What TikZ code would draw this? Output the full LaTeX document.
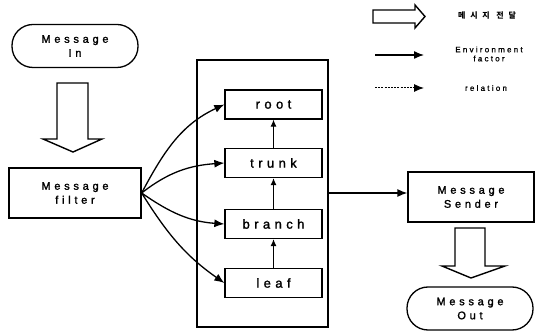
\documentclass[tikz,border=0pt]{standalone}
\usepackage{fontspec}
\setmainfont{Liberation Sans}
\newfontfamily\msgfont[LetterSpace=34,FakeBold=1.5]{Liberation Sans}
\newfontfamily\legfont[LetterSpace=28,FakeBold=1]{Liberation Sans}
\newfontfamily\korfont[LetterSpace=60]{Noto Sans CJK KR}
\usetikzlibrary{arrows.meta,positioning}
\tikzset{
	msgbox/.style={draw,line width=1.3pt,minimum width=132pt,minimum height=50pt,align=center,font=\msgfont\fontsize{11}{14}\selectfont},
	msgcap/.style={msgbox,rounded corners=21pt,minimum width=126pt,minimum height=43pt},
	levelbox/.style={draw,line width=1.3pt,minimum width=97pt,minimum height=29pt,font=\msgfont\fontsize{13}{15}\selectfont},
	legtext/.style={inner sep=0pt,align=center,font=\legfont\fontsize{8}{10}\selectfont},
	envarrow/.style={line width=1.3pt,-{Latex[length=10pt,width=8pt]}},
	hollow/.style={line width=1.4pt,line join=miter},
}
\begin{document}
\begin{tikzpicture}[x=1pt,y=1pt]
\useasboundingbox (0,0) rectangle (535,-336);
% legend
\draw[hollow] (373,-10) -- (415,-10) -- (415,-5) -- (425,-16.5) -- (415,-28) -- (415,-23) -- (373,-23) -- cycle;
\node[inner sep=0pt,font=\korfont\bfseries\fontsize{8}{10}\selectfont] (kortext) at (487,-16) {메시지 전달};
\coordinate (envA) at (375,-55);
\coordinate (envB) at (424,-55);
\draw[envarrow] (envA) -- (envB);
\node[legtext] (envtext) at (489,-54) {Environment\\[-1pt]factor};
\coordinate (relA) at (375,-88);
\coordinate (relB) at (424,-88);
\draw[envarrow,line width=1pt,dash pattern=on 2pt off 1.2pt] (relA) -- (relB);
\node[legtext] (reltext) at (486,-88) {relation};
% input and filter
\node[msgcap] (msgin) at (75,-46) {Message\\In};
\draw[hollow] (57,-83) -- (88,-83) -- (88,-139) -- (102,-139) -- (73,-152) -- (43,-139) -- (57,-139) -- cycle;
\node[msgbox] (filter) at (75,-193) {Message\\filter};
% container with levels
\draw[line width=1.1pt] (197,-60) rectangle (328,-327);
\node[levelbox] (root) at (273.5,-104.5) {root};
\node[levelbox] (trunk) at (273.5,-163) {trunk};
\node[levelbox] (branch) at (273.5,-224) {branch};
\node[levelbox] (leaf) at (273.5,-283) {leaf};
\draw[line width=1pt,-{Latex[length=7pt,width=6pt]}] (leaf) -- (branch);
\draw[line width=1pt,-{Latex[length=7pt,width=6pt]}] (branch) -- (trunk);
\draw[line width=1pt,-{Latex[length=7pt,width=6pt]}] (trunk) -- (root);
\draw[envarrow] (filter.east) to[out=62,in=205] (root.west);
\draw[envarrow] (filter.east) to[out=38,in=184] (trunk.west);
\draw[envarrow] (filter.east) to[out=-35,in=176] (branch.west);
\draw[envarrow] (filter.east) to[out=-58,in=145] (leaf.west);
% output
\node[msgbox,minimum width=126pt] (sender) at (471,-197) {Message\\Sender};
\coordinate (boxout) at (328,-193);
\draw[envarrow] (boxout) -- (boxout -| sender.west);
\draw[hollow] (455,-228) -- (485,-228) -- (485,-266) -- (505,-266) -- (471,-278) -- (442,-266) -- (455,-266) -- cycle;
\node[msgcap] (msgout) at (470,-308.5) {Message\\Out};
\end{tikzpicture}
\end{document}
